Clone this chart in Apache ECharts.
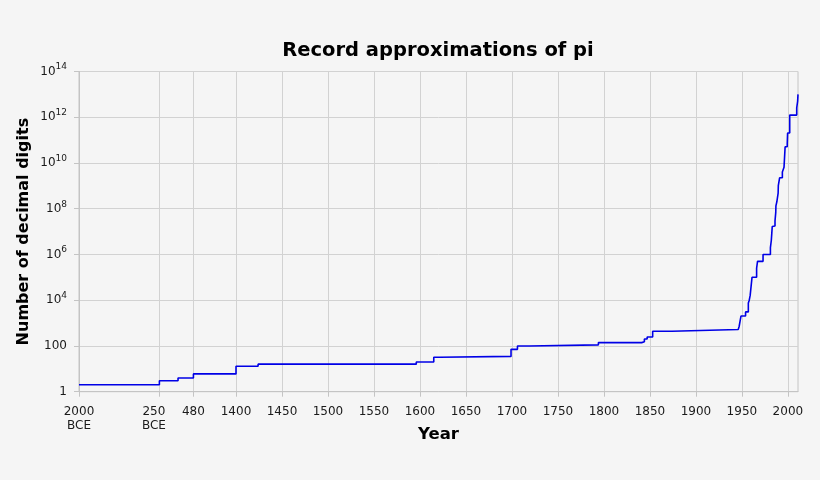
<!DOCTYPE html>
<html>
<head>
    <meta charset="utf-8">
    <title>Record approximations of pi</title>
    <script src="https://cdn.jsdelivr.net/npm/echarts@6/dist/echarts.min.js"></script>
    <style>
        html, body { margin: 0; padding: 0; background: #f5f5f5; }
        #main { width: 820px; height: 480px; }
    </style>
</head>
<body>
<div id="main"></div>
<script>
    // year of each record (negative = BCE) and number of correct decimal digits
    var recordYears = [-2000, -250, 150, 480, 1400, 1424, 1596, 1615, 1621, 1699, 1706, 1719, 1794,
        1841, 1844, 1847, 1853, 1874, 1946, 1947, 1948, 1949, 1954, 1957, 1958, 1959, 1961,
        1966, 1967, 1973, 1981, 1982, 1982.5, 1983, 1985, 1986, 1986.7, 1986.8, 1987, 1988,
        1989.4, 1989.5, 1989.6, 1989.9, 1991, 1994, 1995.6, 1995.8, 1997, 1999.3, 1999.7,
        2002, 2009.6, 2009.9, 2010.6, 2011];
    var recordDigits = [2, 3, 4, 6, 13, 16, 20, 32, 35, 71, 100, 112, 140,
        152, 200, 248, 440, 527, 620, 710, 808, 2037, 3089, 7480, 10000, 16167, 100265,
        250000, 500000, 1001250, 2000036, 4194293, 8388576, 16777206, 17526200, 29360111, 33554414, 67108839, 134214700, 201326551,
        480000000, 535339270, 1011196691, 1073740799, 2260000000, 4044000000, 4294960000, 6442450000, 51539600000, 68719470000, 206158430000,
        1241100000000, 2576980377524, 2699999990000, 5000000000000, 10000000000000];

    // x axis tick years and their labels
    var tickYears = [-2000, -250, 480, 1400, 1450, 1500, 1550, 1600, 1650, 1700, 1750, 1800, 1850, 1900, 1950, 2000];
    var tickLabels = ['2000\nBCE', '{l|250}\n{l|BCE}', '480', '1400', '1450', '1500', '1550', '1600', '1650',
        '1700', '1750', '1800', '1850', '1900', '1950', '2000'];

    // the axis is linear from 1400 on; earlier history is squeezed.
    // each early year maps to an "equivalent year" on that linear scale
    var squeezeFrom = [-2000, -250, 480, 1400];
    var squeezeTo = [1229.3, 1316.7, 1353.7, 1400];

    function toAxis(year) {
        if (year >= 1400) return year;
        for (var i = 0; i < squeezeFrom.length - 1; i++) {
            if (year <= squeezeFrom[i + 1]) {
                var t = (year - squeezeFrom[i]) / (squeezeFrom[i + 1] - squeezeFrom[i]);
                return squeezeTo[i] + t * (squeezeTo[i + 1] - squeezeTo[i]);
            }
        }
        return year;
    }

    var tickPos = tickYears.map(toAxis);
    var font = 'DejaVu Sans';
    var gridColor = '#d2d2d2';
    var axisColor = '#c4c4c4';
    var labelColor = '#1a1a1a';

    var myChart = echarts.init(document.getElementById('main'));

    var option = {
        backgroundColor: '#f5f5f5',
        animation: false,
        title: {
            text: 'Record approximations of pi',
            left: 433,
            textAlign: 'center',
            top: 36,
            textStyle: { fontFamily: font, fontSize: 19.5, fontWeight: 'bold', color: '#000' }
        },
        grid: {
            left: 79, right: 22, top: 71.5, bottom: 88.3,
            show: true, borderColor: axisColor, borderWidth: 1
        },
        xAxis: {
            type: 'value',
            min: toAxis(-2000),
            max: 2011,
            name: 'Year',
            nameLocation: 'middle',
            nameGap: 35,
            nameMoveOverlap: false,
            nameTextStyle: { fontFamily: font, fontSize: 16.5, fontWeight: 'bold', color: '#000' },
            axisLine: { show: true, lineStyle: { color: axisColor } },
            axisTick: { show: true, length: 5, lineStyle: { color: axisColor }, customValues: tickPos },
            splitLine: { show: true, lineStyle: { color: gridColor } },
            axisLabel: {
                customValues: tickPos,
                margin: 13,
                fontFamily: font, fontSize: 12, color: labelColor, lineHeight: 14,
                rich: {
                    l: { fontFamily: font, fontSize: 12, color: labelColor, lineHeight: 14, padding: [0, 11, 0, 0] }
                },
                formatter: function (v) {
                    for (var i = 0; i < tickPos.length; i++) {
                        if (Math.abs(tickPos[i] - v) < 0.01) return tickLabels[i];
                    }
                    return '';
                }
            }
        },
        yAxis: {
            type: 'log',
            logBase: 100,
            min: 1,
            max: 1e14,
            splitNumber: 7,
            name: 'Number of decimal digits',
            nameLocation: 'middle',
            nameGap: 47,
            nameMoveOverlap: false,
            nameTextStyle: { fontFamily: font, fontSize: 16, fontWeight: 'bold', color: '#000' },
            axisLine: { show: true, lineStyle: { color: axisColor } },
            axisTick: { show: true, length: 5, lineStyle: { color: axisColor } },
            splitLine: { show: true, lineStyle: { color: gridColor } },
            axisLabel: {
                margin: 12,
                fontFamily: font, fontSize: 12, color: labelColor,
                formatter: function (v) {
                    var n = Math.round(Math.log10(v));
                    if (n === 0) return '1';
                    if (n === 2) return '100';
                    return '{b|10}{s|' + n + '}';
                },
                rich: {
                    b: { fontFamily: font, fontSize: 12, color: labelColor, lineHeight: 18 },
                    s: { fontFamily: font, fontSize: 9, color: labelColor, lineHeight: 9, verticalAlign: 'top' }
                }
            }
        },
        series: [{
            type: 'line',
            step: 'end',
            showSymbol: false,
            lineStyle: { color: '#0000e6', width: 1.6 },
            data: recordYears.map(function (y, i) { return [toAxis(y), recordDigits[i]]; })
        }]
    };

    myChart.setOption(option);
</script>
</body>
</html>
